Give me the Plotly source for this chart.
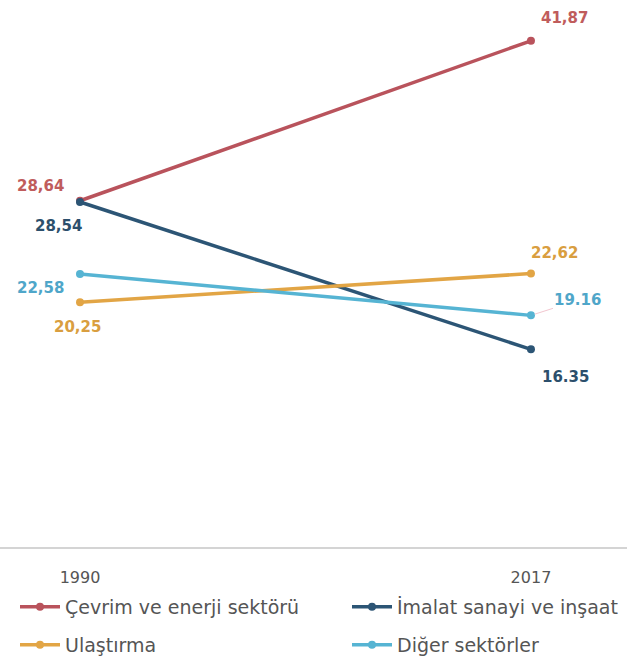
import plotly.graph_objects as go

# Sector emissions shares (%) for the two reference years
years = [1990, 2017]
series_names = ["Çevrim ve enerji sektörü", "İmalat sanayi ve inşaat", "Ulaştırma", "Diğer sektörler"]
cevrim = [28.64, 41.87]
imalat = [28.54, 16.35]
ulastirma = [20.25, 22.62]
diger = [22.58, 19.16]
start_labels = ["28,64", "28,54", "20,25", "22,58"]
end_labels = ["41,87", "16.35", "22,62", "19.16"]

line_colors = ["#b9535c", "#2c5575", "#e2a545", "#56b4d3"]
text_colors = ["#c05c5c", "#2c4f6c", "#d99e40", "#4fa6c9"]
values = [cevrim, imalat, ulastirma, diger]

# one legend box per entry, laid out as a 2x2 grid (pixel positions)
legend_ids = ["legend", "legend2", "legend3", "legend4"]
legend_pos = [(15, 607), (347, 607), (15, 645), (347, 645)]

LABEL_FONT = "DejaVu Sans"
W, H = 627, 661

fig = go.Figure()
for name, vals, col, lg in zip(series_names, values, line_colors, legend_ids):
    fig.add_trace(go.Scatter(
        x=years, y=vals, name=name, mode="lines+markers",
        line=dict(color=col, width=3.5),
        marker=dict(color=col, size=8),
        legend=lg,
    ))

# value labels beside each end point: (xshift, yshift) per series
start_shift = [(-40, 15), (-22, -24), (-3, -25), (-40, -14)]
end_shift = [(34, 23), (35, -28), (24, 21), (47, 15)]
for i, vals in enumerate(values):
    fnt = dict(color=text_colors[i], size=15, family=LABEL_FONT)
    fig.add_annotation(x=years[0], y=vals[0], text=f"<b>{start_labels[i]}</b>", showarrow=False,
                       xshift=start_shift[i][0], yshift=start_shift[i][1], font=fnt)
    if i == 3:
        fig.add_annotation(x=years[1], y=vals[1], text=f"<b>{end_labels[i]}</b>", showarrow=True,
                           ax=end_shift[i][0], ay=-end_shift[i][1], arrowhead=0,
                           arrowwidth=1, arrowcolor="#f2c6cf", standoff=4, font=fnt)
    else:
        fig.add_annotation(x=years[1], y=vals[1], text=f"<b>{end_labels[i]}</b>", showarrow=False,
                           xshift=end_shift[i][0], yshift=end_shift[i][1], font=fnt)

legend_layout = {}
for lg, (px, py) in zip(legend_ids, legend_pos):
    legend_layout[lg] = dict(
        orientation="h", xanchor="left", yanchor="middle", xref="container", yref="container",
        x=px / W, y=1 - py / H, itemwidth=40,
        font=dict(size=19, color="#555555", family="DejaVu Sans"),
        bgcolor="rgba(0,0,0,0)",
    )

fig.update_layout(
    width=W, height=H,
    margin=dict(l=0, r=0, t=10, b=114, autoexpand=False),
    plot_bgcolor="white", paper_bgcolor="white",
    showlegend=True,
    xaxis=dict(range=[1985.21, 2022.75], tickvals=years, ticktext=["1990", "2017"],
               showgrid=False, zeroline=False, showline=True, linecolor="#d4d4d4",
               linewidth=2, ticks="", ticklabelstandoff=15,
               tickfont=dict(size=16, color="#555555", family="DejaVu Sans")),
    yaxis=dict(range=[0, 44.42], visible=False, showgrid=False, zeroline=False),
    **legend_layout,
)

fig.write_html("out.html")
